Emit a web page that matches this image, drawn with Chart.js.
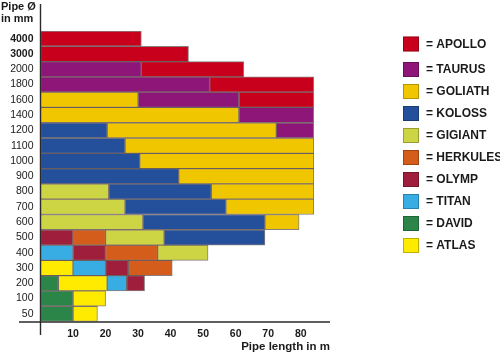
<!DOCTYPE html>
<html><head><meta charset="utf-8">
<script src="https://cdn.jsdelivr.net/npm/chart.js@4"></script>
<style>html,body{margin:0;padding:0;background:#fff}canvas{display:block}</style>
</head><body>
<canvas id="c" width="500" height="356"></canvas>
<script>
// Pipe diameters (categories, top to bottom)
const diameters = ['4000','3000','2000','1800','1600','1400','1200','1100','1000','900','800','700','600','500','400','300','200','100','50'];
const xTickValues = [10,20,30,40,50,60,70,80];
const _ = null;
// Pipe-length ranges [from, to] in m covered by each machine, per diameter row
const apollo   = [[0,31],[0,45.5],[31,62.5],[52,84],[61,84],_,_,_,_,_,_,_,_,_,_,_,_,_,_];
const taurus   = [_,_,[0,31],[0,52],[30,61],[61,84],[72.5,84],_,_,_,_,_,_,_,_,_,_,_,_];
const goliath  = [_,_,_,_,[0,30],[0,61],[20.5,72.5],[26,84],[30.5,84],[42.5,84],[52.5,84],[57,84],[69,79.5],_,_,_,_,_,_];
const koloss   = [_,_,_,_,_,_,[0,20.5],[0,26],[0,30.5],[0,42.5],[21,52.5],[26,57],[31.5,69],[38,69],_,_,_,_,_];
const gigiant  = [_,_,_,_,_,_,_,_,_,_,[0,21],[0,26],[0,31.5],[20,38],[36,51.5],_,_,_,_];
const herkules = [_,_,_,_,_,_,_,_,_,_,_,_,_,[10,20],[20,36],[27,40.5],_,_,_];
const olymp    = [_,_,_,_,_,_,_,_,_,_,_,_,_,[0,10],[10,20],[20,27],[26.5,32],_,_];
const titan    = [_,_,_,_,_,_,_,_,_,_,_,_,_,_,[0,10],[10,20],[20.5,26.5],_,_];
const david    = [_,_,_,_,_,_,_,_,_,_,_,_,_,_,_,_,[0,5.5],[0,10],[0,10]];
const atlas    = [_,_,_,_,_,_,_,_,_,_,_,_,_,_,_,[0,10],[5.5,20.5],[10,20],[10,17.5]];

const seriesNames = ['APOLLO','TAURUS','GOLIATH','KOLOSS','GIGIANT','HERKULES','OLYMP','TITAN','DAVID','ATLAS'];
const seriesData = [apollo,taurus,goliath,koloss,gigiant,herkules,olymp,titan,david,atlas];
const seriesColors = ['#c9001c','#8e1679','#f0c600','#244f9b','#cdd545','#d45d1b','#9e1e3c','#37ade4','#2b8549','#ffeb00'];

const FONT = '"Liberation Sans", Arial, Helvetica, sans-serif';
const TXT = '#1a1a1a';

const crossAxes = {
  id: 'crossAxes',
  afterDatasetsDraw(chart) {
    const {ctx, chartArea: {left, right, top, bottom}} = chart;
    ctx.save();
    ctx.strokeStyle = '#2b2b2b';
    ctx.lineWidth = 1.4;
    ctx.beginPath();
    ctx.moveTo(left, top - 27);
    ctx.lineTo(left, bottom + 13.5);
    ctx.moveTo(left - 21.5, bottom + 0.5);
    ctx.lineTo(right, bottom + 0.5);
    ctx.stroke();
    ctx.restore();
  }
};

const sideLegend = {
  id: 'sideLegend',
  afterDraw(chart) {
    const {ctx, chartArea} = chart;
    const x0 = chartArea.right + 73;
    ctx.save();
    chart.data.datasets.forEach((ds, i) => {
      const cy = chartArea.top + 13 + (i > 0 ? 3.5 : 0) + i * 22;
      ctx.fillStyle = ds.backgroundColor;
      ctx.fillRect(x0, cy - 7.5, 16, 15);
      ctx.strokeStyle = 'rgba(0,0,0,0.25)';
      ctx.lineWidth = 1;
      ctx.strokeRect(x0 + 0.5, cy - 7, 15, 14);
      ctx.fillStyle = TXT;
      ctx.font = 'bold 12px ' + FONT;
      ctx.textBaseline = 'middle';
      ctx.textAlign = 'left';
      ctx.fillText('= ' + ds.label, x0 + 23, cy + 0.5);
    });
    ctx.restore();
  }
};

new Chart(document.getElementById('c'), {
  type: 'bar',
  data: {
    labels: diameters,
    datasets: seriesNames.map((name, i) => ({
      label: name,
      data: seriesData[i],
      backgroundColor: seriesColors[i],
      borderColor: 'rgba(40,20,20,0.55)',
      borderWidth: 1,
      borderSkipped: false,
      grouped: false,
      barPercentage: 1,
      categoryPercentage: 1
    }))
  },
  options: {
    indexAxis: 'y',
    responsive: false,
    animation: false,
    devicePixelRatio: 1,
    layout: {padding: {left: 1, right: 170, top: 0, bottom: 0}},
    plugins: {
      legend: {display: false},
      tooltip: {enabled: false},
      title: {
        display: true,
        text: ['Pipe Ø', 'in mm'],
        align: 'start',
        color: TXT,
        font: {family: FONT, size: 11, weight: 'bold', lineHeight: 1.1},
        padding: {top: 0.8, bottom: 6}
      }
    },
    scales: {
      x: {
        type: 'linear',
        min: 0,
        max: 89,
        afterFit(s) { s.height = 34.5; },
        grid: {display: false, drawTicks: false},
        border: {display: false},
        ticks: {
          stepSize: 10,
          includeBounds: false,
          autoSkip: false,
          maxRotation: 0,
          padding: 6,
          color: TXT,
          font: {family: FONT, size: 10.5, weight: 'bold'},
          callback: v => xTickValues.includes(v) ? String(v) : ''
        },
        title: {
          display: true,
          text: 'Pipe length in m',
          align: 'end',
          color: TXT,
          font: {family: FONT, size: 11.5, weight: 'bold'},
          padding: {top: 0, bottom: 2.1}
        }
      },
      y: {
        type: 'category',
        afterFit(s) { s.width = 39.5; },
        grid: {display: false, drawTicks: false},
        border: {display: false},
        ticks: {
          autoSkip: false,
          padding: 7,
          color: TXT,
          font: c => ({family: FONT, size: 10.5, weight: c.index < 2 ? 'bold' : 'normal'})
        }
      }
    }
  },
  plugins: [crossAxes, sideLegend]
});
</script>
</body></html>
